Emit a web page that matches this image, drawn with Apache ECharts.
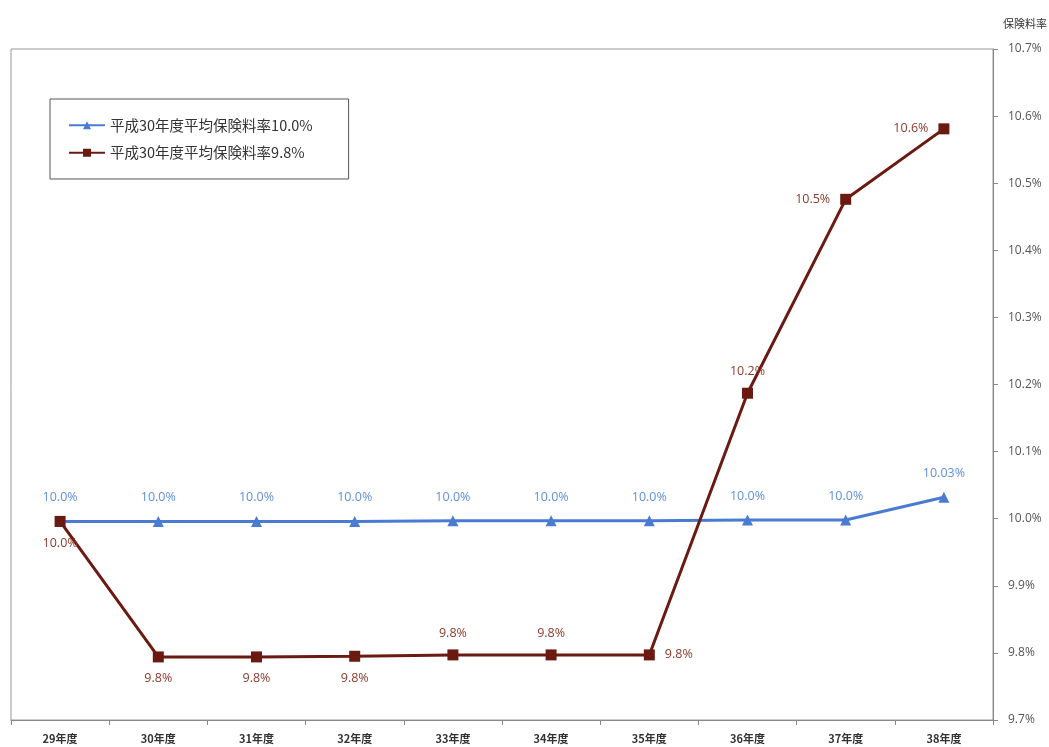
<!DOCTYPE html>
<html>
<head>
<meta charset="utf-8">
<script src="https://cdn.jsdelivr.net/npm/echarts@6/dist/echarts.min.js"></script>
<style>html,body{margin:0;padding:0;background:#fff;}#c{width:1049px;height:747px;}</style>
</head>
<body>
<div id="c"></div>
<script>
const categories = ['29年度','30年度','31年度','32年度','33年度','34年度','35年度','36年度','37年度','38年度'];
const seriesNames = ['平成30年度平均保険料率10.0%','平成30年度平均保険料率9.8%'];
const blueValues = [9.996, 9.996, 9.996, 9.996, 9.997, 9.997, 9.997, 9.998, 9.998, 10.032];
const blueLabels = ['10.0%','10.0%','10.0%','10.0%','10.0%','10.0%','10.0%','10.0%','10.0%','10.03%'];
const redValues = [9.996, 9.794, 9.794, 9.795, 9.797, 9.797, 9.797, 10.187, 10.476, 10.581];
const redLabels = ['10.0%','9.8%','9.8%','9.8%','9.8%','9.8%','9.8%','10.2%','10.5%','10.6%'];
const redLabelPos = ['bottom','bottom','bottom','bottom','top','top','right','top','left','left'];
const yTicks = ['9.7%','9.8%','9.9%','10.0%','10.1%','10.2%','10.3%','10.4%','10.5%','10.6%','10.7%'];

const BLUE = '#4a7bd3', BLUE_L = '#5f8fdc', RED = '#6a1a10', RED_L = '#8c3a2c';
const font = '"Open Sans", "Noto Sans CJK JP", sans-serif';

const chart = echarts.init(document.getElementById('c'));
chart.setOption({
  animation: false,
  backgroundColor: '#fff',
  grid: { left: 11, right: 56, top: 49, bottom: 27, show: true, borderColor: '#999', borderWidth: 1, containLabel: false, outerBoundsMode: 'none' },
  legend: {
    orient: 'vertical', left: 50, top: 99,
    padding: [19, 36, 19, 18], itemGap: 13,
    borderColor: '#555', borderWidth: 1, backgroundColor: '#fff',
    itemWidth: 36, itemHeight: 10,
    textStyle: { fontSize: 14.5, color: '#333', fontFamily: '"Noto Sans CJK JP", sans-serif' },
    data: seriesNames
  },
  xAxis: {
    type: 'category', data: categories, boundaryGap: true,
    axisLine: { lineStyle: { color: '#888' } },
    axisTick: { show: true, lineStyle: { color: '#888' } },
    axisLabel: { fontSize: 11, fontWeight: 'bold', color: '#333', margin: 13, fontFamily: '"Noto Sans CJK JP", sans-serif' }
  },
  yAxis: {
    type: 'value', position: 'right', min: 9.7, max: 10.7, interval: 0.1,
    name: '保険料率', nameLocation: 'end', nameGap: 20,
    nameTextStyle: { fontSize: 11, color: '#333', align: 'left', padding: [0, 0, 0, 10], fontFamily: '"Noto Sans CJK JP", sans-serif' },
    splitLine: { show: false },
    axisLine: { show: true, lineStyle: { color: '#888' } },
    axisTick: { show: true, inside: false, length: 5, lineStyle: { color: '#888' } },
    axisLabel: {
      fontSize: 12, color: '#555', margin: 15, fontFamily: font,
      formatter: function (v) { const i = Math.round((v - 9.7) * 10); return yTicks[i]; }
    }
  },
  series: [
    {
      name: seriesNames[0], type: 'line', data: blueValues,
      symbol: 'triangle', symbolSize: 11,
      lineStyle: { color: BLUE, width: 3 }, itemStyle: { color: BLUE },
      label: {
        show: true, position: 'top', distance: 12, color: BLUE_L, fontSize: 12.5, fontFamily: font,
        formatter: function (p) { return blueLabels[p.dataIndex]; }
      },
      z: 2
    },
    {
      name: seriesNames[1], type: 'line',
      data: redValues.map(function (v, i) { return { value: v, label: { position: redLabelPos[i] } }; }),
      symbol: 'rect', symbolSize: 11,
      lineStyle: { color: RED, width: 3 }, itemStyle: { color: RED },
      label: {
        show: true, distance: 10, color: RED_L, fontSize: 12.5, fontFamily: font,
        formatter: function (p) { return redLabels[p.dataIndex]; }
      },
      z: 3
    }
  ]
});
</script>
</body>
</html>
